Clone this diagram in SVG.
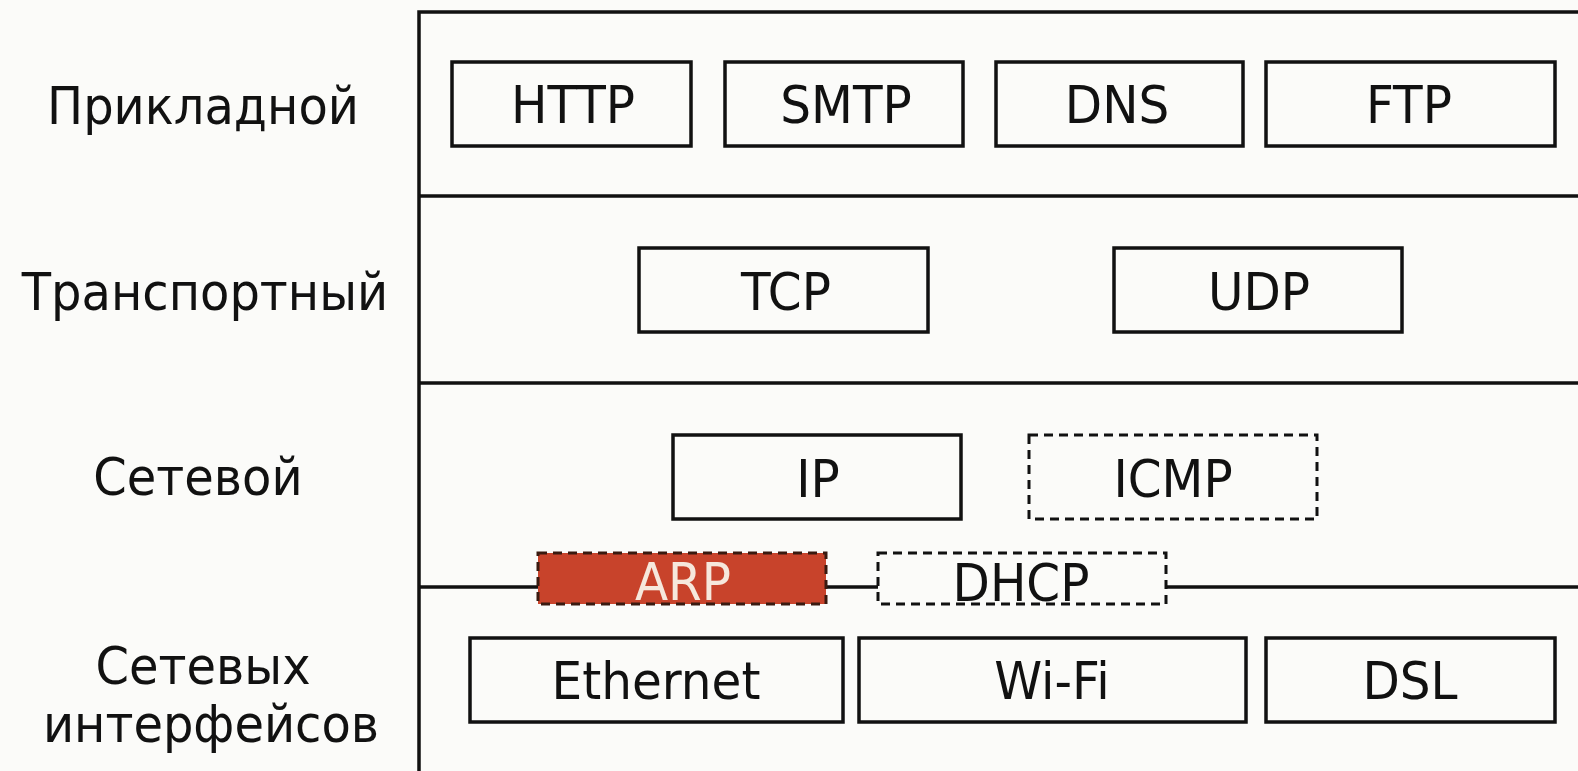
<svg xmlns="http://www.w3.org/2000/svg" width="1578" height="771" viewBox="0 0 1578 771">
<style>
.bg{fill:#fbfbf9}
.box{fill:#fbfbf9;stroke:#111;stroke-width:3.5}
.dash{fill:#fbfbf9;stroke:#111;stroke-width:3;stroke-dasharray:9 6}
.arp{fill:#c8432b;stroke:#3a1a10;stroke-width:3;stroke-dasharray:9 6}
.line{stroke:#111;stroke-width:3.5;fill:none}
.t{font-family:"DejaVu Sans",Verdana,sans-serif;font-size:48.5px;fill:#111;text-anchor:middle}
.lbl{font-family:"DejaVu Sans",Verdana,sans-serif;font-size:48px;fill:#111;text-anchor:middle}
</style>
<rect class="bg" x="0" y="0" width="1578" height="771"/>
<g id="frame">
<path class="line" d="M419 771 V12 H1578"/>
<path class="line" d="M419 196 H1578"/>
<path class="line" d="M419 383 H1578"/>
<path class="line" d="M419 587 H1578"/>
</g>
<g id="labels">
<text class="lbl" transform="translate(203,124) scale(1,1.08)">Прикладной</text>
<text class="lbl" transform="translate(205,310) scale(1,1.08)">Транспортный</text>
<text class="lbl" transform="translate(198,495) scale(1,1.08)">Сетевой</text>
<text class="lbl" transform="translate(203,684) scale(1,1.08)">Сетевых</text>
<text class="lbl" transform="translate(211,742) scale(1,1.08)">интерфейсов</text>
</g>
<g id="http"><rect class="box" x="452" y="62" width="239" height="84"/><text class="t" transform="translate(573,123) scale(1,1.08)">HTTP</text></g>
<g id="smtp"><rect class="box" x="725" y="62" width="238" height="84"/><text class="t" transform="translate(846,123) scale(1,1.08)">SMTP</text></g>
<g id="dns"><rect class="box" x="996" y="62" width="247" height="84"/><text class="t" transform="translate(1117,123) scale(1,1.08)">DNS</text></g>
<g id="ftp"><rect class="box" x="1266" y="62" width="289" height="84"/><text class="t" transform="translate(1409,123) scale(1,1.08)">FTP</text></g>
<g id="tcp"><rect class="box" x="639" y="248" width="289" height="84"/><text class="t" transform="translate(786,310) scale(1,1.08)">TCP</text></g>
<g id="udp"><rect class="box" x="1114" y="248" width="288" height="84"/><text class="t" transform="translate(1259,310) scale(1,1.08)">UDP</text></g>
<g id="ip"><rect class="box" x="673" y="435" width="288" height="84"/><text class="t" transform="translate(818,497) scale(1,1.08)">IP</text></g>
<g id="icmp"><rect class="dash" x="1029" y="435" width="288" height="84"/><text class="t" transform="translate(1173,497) scale(1,1.08)">ICMP</text></g>
<g id="arp"><rect class="arp" x="538" y="553" width="288" height="51"/><text class="t" transform="translate(683,600) scale(1,1.08)" style="fill:#f6e8dc">ARP</text></g>
<g id="dhcp"><rect class="dash" x="878" y="553" width="288" height="51"/><text class="t" transform="translate(1021,601) scale(1,1.08)">DHCP</text></g>
<g id="ethernet"><rect class="box" x="470" y="638" width="373" height="84"/><text class="t" transform="translate(656,699) scale(1,1.08)">Ethernet</text></g>
<g id="wifi"><rect class="box" x="859" y="638" width="387" height="84"/><text class="t" transform="translate(1052,699) scale(1,1.08)">Wi-Fi</text></g>
<g id="dsl"><rect class="box" x="1266" y="638" width="289" height="84"/><text class="t" transform="translate(1410,699) scale(1,1.08)">DSL</text></g>
</svg>
